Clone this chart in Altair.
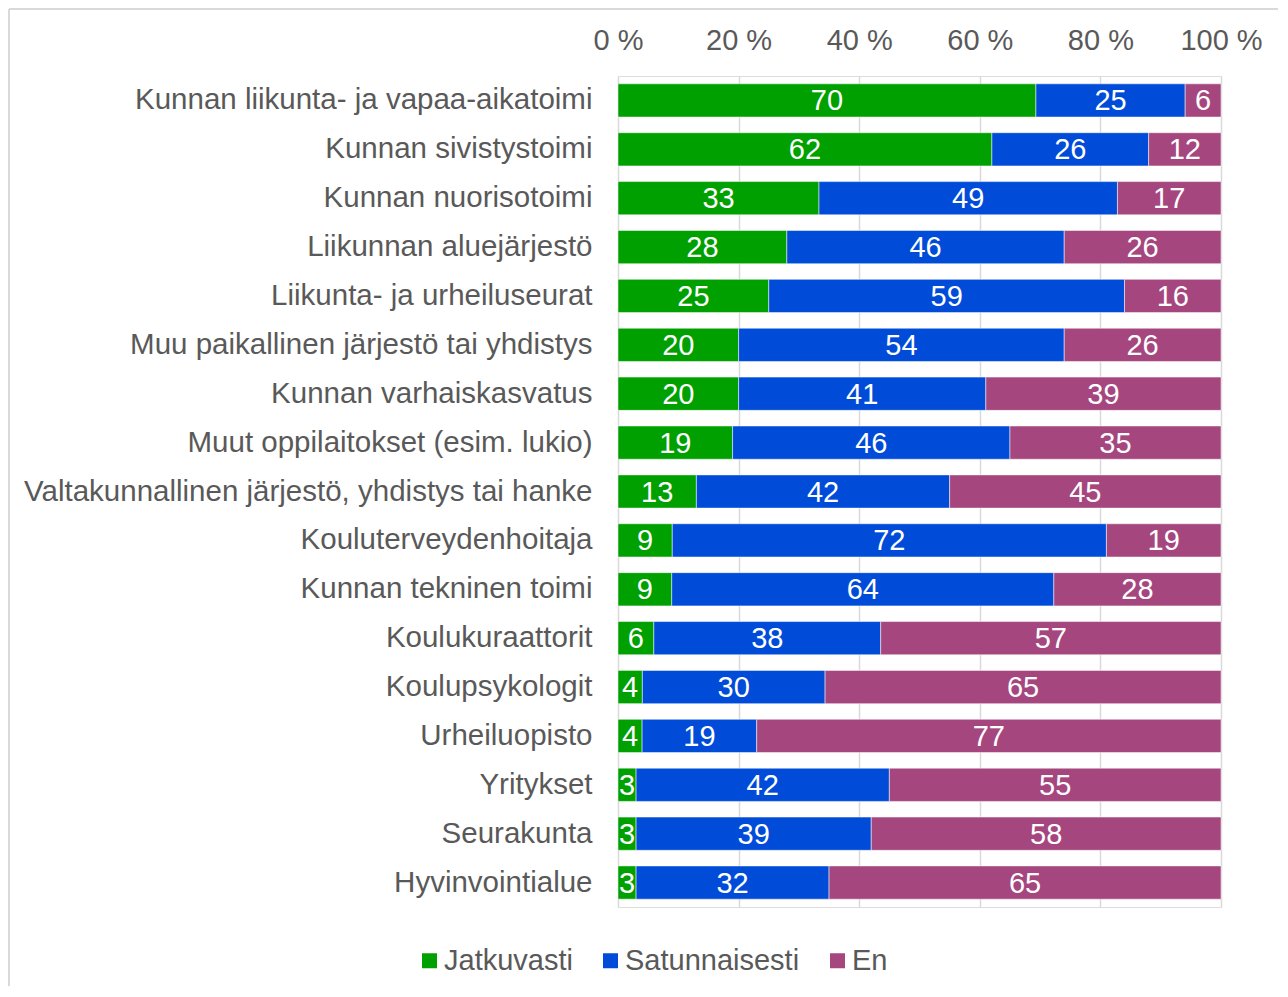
import altair as alt
import pandas as pd

categories = [
    "Kunnan liikunta- ja vapaa-aikatoimi",
    "Kunnan sivistystoimi",
    "Kunnan nuorisotoimi",
    "Liikunnan aluejärjestö",
    "Liikunta- ja urheiluseurat",
    "Muu paikallinen järjestö tai yhdistys",
    "Kunnan varhaiskasvatus",
    "Muut oppilaitokset (esim. lukio)",
    "Valtakunnallinen järjestö, yhdistys tai hanke",
    "Kouluterveydenhoitaja",
    "Kunnan tekninen toimi",
    "Koulukuraattorit",
    "Koulupsykologit",
    "Urheiluopisto",
    "Yritykset",
    "Seurakunta",
    "Hyvinvointialue",
]
series = ["Jatkuvasti", "Satunnaisesti", "En"]
jatkuvasti = [70, 62, 33, 28, 25, 20, 20, 19, 13, 9, 9, 6, 4, 4, 3, 3, 3]
satunnaisesti = [25, 26, 49, 46, 59, 54, 41, 46, 42, 72, 64, 38, 30, 19, 42, 39, 32]
en = [6, 12, 17, 26, 16, 26, 39, 35, 45, 19, 28, 57, 65, 77, 55, 58, 65]
colors = ["#00A000", "#004CD9", "#A5467F"]
x_ticks = [0, 20, 40, 60, 80, 100]

rows = []
for i, c in enumerate(categories):
    for j, (s, vals) in enumerate(zip(series, [jatkuvasti, satunnaisesti, en])):
        rows.append({"cat": c, "series": s, "order": j, "value": vals[i]})
df = pd.DataFrame(rows)

FONT = "Liberation Sans"
GREY = "#595959"
FS = 29

base = alt.Chart(df).transform_joinaggregate(
    total="sum(value)", groupby=["cat"]
).transform_stack(
    stack="value", as_=["s0", "s1"], groupby=["cat"], sort=[alt.SortField("order")]
).transform_calculate(
    x0="100*datum.s0/datum.total",
    x1="100*datum.s1/datum.total",
    xm="100*(datum.s0+datum.s1)/2/datum.total",
)

y_enc = alt.Y(
    "cat:N",
    sort=categories,
    title=None,
    scale=alt.Scale(paddingInner=0.32, paddingOuter=0.16),
    axis=alt.Axis(
        ticks=False, domain=False, labelFontSize=29.5, labelColor=GREY,
        labelFont=FONT, labelPadding=26, labelLimit=700,
    ),
)

bars = base.mark_bar(stroke="white", strokeWidth=0.5).encode(
    y=y_enc,
    x=alt.X(
        "x0:Q",
        scale=alt.Scale(domain=[0, 100], nice=False),
        title=None,
        axis=alt.Axis(
            orient="top", values=x_ticks, labelExpr="datum.value + ' %'",
            labelFontSize=FS, labelColor=GREY, labelFont=FONT,
            labelFlush=False, labelOverlap=False,
            ticks=False, domain=False, labelPadding=21,
            grid=True, gridColor="#D9D9D9", gridWidth=1.5,
        ),
    ),
    x2="x1:Q",
    color=alt.Color(
        "series:N",
        sort=series,
        scale=alt.Scale(domain=series, range=colors),
        legend=alt.Legend(
            title=None, orient="none", direction="horizontal",
            legendX=-203, legendY=870,
            symbolType="square", symbolSize=225, symbolStrokeWidth=0,
            labelFontSize=FS, labelColor=GREY, labelFont=FONT, labelLimit=400,
            columnPadding=23, symbolOffset=0, labelOffset=0,
        ),
    ),
    order=alt.Order("order:Q"),
)

labels = base.mark_text(color="white", fontSize=FS, font=FONT, baseline="middle", dy=1).encode(
    y=alt.Y("cat:N", sort=categories),
    x=alt.X("xm:Q"),
    text=alt.Text("value:Q"),
)

frame = pd.DataFrame({"a": [0]})
top_line = alt.Chart(frame).mark_rule(stroke="#D9D9D9", strokeWidth=2).encode(
    x=alt.value(-609), x2=alt.value(660), y=alt.value(-67)
)
left_line = alt.Chart(frame).mark_rule(stroke="#D9D9D9", strokeWidth=2).encode(
    x=alt.value(-609), y=alt.value(-67), y2=alt.value(910)
)

chart = alt.layer(bars, labels, top_line, left_line).properties(
    width=603, height=831, padding=0
).configure_view(stroke=None).configure(background="white")

chart.save("out.html", embed_options={"renderer": "svg", "actions": False})
